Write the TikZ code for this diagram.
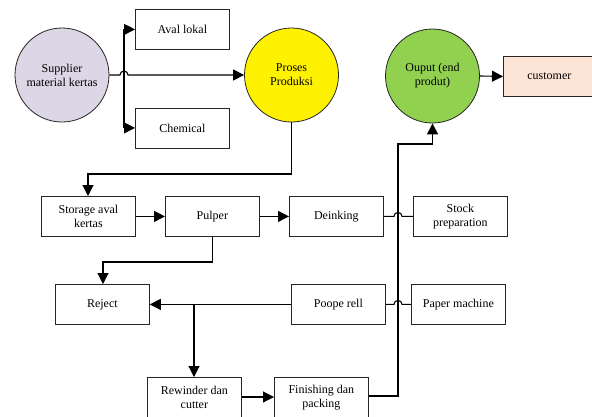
\documentclass[tikz,border=0pt]{standalone}
\usepackage{fontspec}
\setmainfont{Liberation Serif}
\usetikzlibrary{arrows.meta}
\definecolor{lav}{RGB}{220,214,230}
\definecolor{grn}{RGB}{146,208,80}
\definecolor{peach}{RGB}{252,228,214}
\tikzset{
  box/.style={draw=black!85, line width=0.8pt, minimum width=94pt, minimum height=40pt, inner sep=1pt, align=center, font=\fontsize{12}{14}\selectfont, anchor=north west},
  circ/.style={circle, draw=black!85, line width=0.8pt, minimum size=94pt, inner sep=0pt, align=center, font=\fontsize{12}{14}\selectfont},
  conn/.style={line width=1.1pt},
  arr/.style={conn, -{Triangle[length=11pt,width=11pt]}}
}
\begin{document}
\begin{tikzpicture}[x=1pt,y=-1pt]
\useasboundingbox (0,0) rectangle (592,416);
\begin{scope}
\clip (0,0) rectangle (592,416);
% circles
\node[circ, fill=lav] (sup) at (62,75) {Supplier\\material kertas};
\node[circ, fill=yellow] (pro) at (291.5,75) {Proses\\Produksi};
\node[circ, fill=grn] (out) at (432.5,76) {Ouput (end\\produt)};
% boxes
\node[box] (aval) at (135,9) {Aval lokal};
\node[box] (chem) at (135,107.5) {Chemical};
\node[box, fill=peach, minimum width=100pt] (cust) at (503,56) {\hspace*{-8pt}customer};
\node[box] (stor) at (41,196) {Storage aval\\kertas};
\node[box] (pulp) at (165,196) {Pulper};
\node[box] (dein) at (289,196) {Deinking};
\node[box] (stock) at (413,196) {Stock\\preparation};
\node[box] (rej) at (55,284) {Reject};
\node[box] (poop) at (291,284) {Poope rell};
\node[box] (pm) at (411,284) {Paper machine};
\node[box] (rew) at (147,377) {Rewinder dan\\cutter};
\node[box] (fin) at (274,377) {Finishing dan\\packing};
\coordinate (br) at (124,75);
\coordinate (jr) at (194,304);
\coordinate (vx) at (398,144);
% supplier branches
\draw[arr] (br |- aval.west) -- (aval.west);
\draw[arr] (br |- chem.west) -- (chem.west);
\draw[conn] (br |- aval.west) -- (br |- chem.west);
\draw[arr] (sup.east) -- ([xshift=-4pt]br) arc[start angle=180,end angle=0,radius=4pt] -- (pro.west);
% proses to storage
\draw[arr] (pro.south) |- (88,174) -- (stor.north -| 88,0);
% row 1
\draw[arr] (stor.east) -- (pulp.west);
\draw[arr] (pulp.east) -- (dein.west);
\draw[conn] (dein.east) -- ([xshift=-4pt]vx |- dein.east) arc[start angle=180,end angle=0,radius=4pt] -- (stock.west);
% pulper to reject
\draw[arr] (pulp.south) |- (103,262) -- (rej.north -| 103,0);
% poope rell
\draw[arr] (poop.west) -- (rej.east);
\draw[conn] (poop.east) -- ([xshift=-4pt]vx |- poop.east) arc[start angle=180,end angle=0,radius=4pt] -- (pm.west);
\draw[arr] (jr) -- (rew.north -| jr);
\draw[arr] (rew.east |- 0,397) -- (fin.west |- 0,397);
% finishing to output
\draw[arr] (fin.east |- 0,396) -| (vx) -| (out.south);
% output to customer
\draw[arr] (out.east) -- (cust.west);
\end{scope}
\end{tikzpicture}
\end{document}
